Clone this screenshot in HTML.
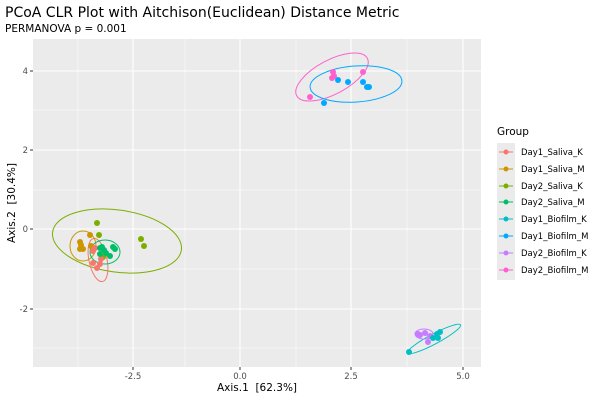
<!DOCTYPE html>
<html><head><meta charset="utf-8"><style>body{margin:0;background:#fff}svg{display:block}text{font-family:"DejaVu Sans","Liberation Sans",sans-serif}</style></head><body>
<svg width="600" height="400" xmlns="http://www.w3.org/2000/svg">
<rect width="600" height="400" fill="#fff"/>
<text x="5" y="17" font-size="14" fill="#000">PCoA CLR Plot with Aitchison(Euclidean) Distance Metric</text>
<text x="5" y="32" font-size="10.5" fill="#000">PERMANOVA p = 0.001</text>
<rect x="33" y="39" width="448" height="328" fill="#EBEBEB"/>
<g stroke="#fff" stroke-width="0.5">
<line x1="78" y1="39" x2="78" y2="367"/><line x1="185" y1="39" x2="185" y2="367"/><line x1="296" y1="39" x2="296" y2="367"/><line x1="407" y1="39" x2="407" y2="367"/>
<line x1="33" y1="110" x2="481" y2="110"/><line x1="33" y1="190" x2="481" y2="190"/><line x1="33" y1="269" x2="481" y2="269"/><line x1="33" y1="348" x2="481" y2="348"/>
</g>
<g stroke="#fff" stroke-width="1.1">
<line x1="133" y1="39" x2="133" y2="367"/><line x1="240" y1="39" x2="240" y2="367"/><line x1="351" y1="39" x2="351" y2="367"/><line x1="463" y1="39" x2="463" y2="367"/>
<line x1="33" y1="71" x2="481" y2="71"/><line x1="33" y1="150" x2="481" y2="150"/><line x1="33" y1="229" x2="481" y2="229"/><line x1="33" y1="309" x2="481" y2="309"/>
</g>
<g stroke="#333" stroke-width="1">
<line x1="133" y1="367" x2="133" y2="370"/><line x1="240" y1="367" x2="240" y2="370"/><line x1="351" y1="367" x2="351" y2="370"/><line x1="463" y1="367" x2="463" y2="370"/>
<line x1="30" y1="71" x2="33" y2="71"/><line x1="30" y1="150" x2="33" y2="150"/><line x1="30" y1="229" x2="33" y2="229"/><line x1="30" y1="309" x2="33" y2="309"/>
</g>
<g font-size="8.5" fill="#4D4D4D" text-anchor="middle">
<text x="133" y="379">-2.5</text><text x="240" y="379">0.0</text><text x="351" y="379">2.5</text><text x="463" y="379">5.0</text>
</g>
<g font-size="8.5" fill="#4D4D4D" text-anchor="end">
<text x="28" y="74">4</text><text x="28" y="153">2</text><text x="28" y="232">0</text><text x="28" y="312">-2</text>
</g>
<text x="257" y="391" font-size="10.5" text-anchor="middle" xml:space="preserve">Axis.1  [62.3%]</text>
<text transform="translate(15,203) rotate(-90)" font-size="10.5" text-anchor="middle" xml:space="preserve">Axis.2  [30.4%]</text>
<g fill="none" stroke-width="1">
<ellipse cx="117" cy="241" rx="65" ry="31" transform="rotate(8 117 241)" stroke="#7CAE00"/>
<ellipse cx="98" cy="260" rx="9" ry="22" transform="rotate(-12 98 260)" stroke="#F8766D"/>
<ellipse cx="83" cy="246" rx="13" ry="15" stroke="#CD9600"/>
<ellipse cx="105" cy="252" rx="15" ry="12" stroke="#00BE67"/>
<ellipse cx="332" cy="77" rx="40" ry="17" transform="rotate(-28 332 77)" stroke="#FF61CC"/>
<ellipse cx="356" cy="84" rx="46" ry="18" transform="rotate(-4 356 84)" stroke="#00A9FF"/>
<ellipse cx="434" cy="339" rx="30" ry="5" transform="rotate(-28 434 339)" stroke="#00BFC4"/>
<ellipse cx="424" cy="334" rx="9" ry="5" stroke="#C77CFF"/>
</g>
<g fill="#CD9600"><circle cx="80" cy="242" r="3"/><circle cx="81" cy="245" r="3"/><circle cx="80" cy="249" r="3"/><circle cx="83" cy="249" r="3"/><circle cx="90" cy="235" r="3"/><circle cx="91" cy="246" r="3"/></g>
<g fill="#7CAE00"><circle cx="97" cy="223" r="3"/><circle cx="99" cy="235" r="3"/><circle cx="141" cy="239" r="3"/><circle cx="144" cy="246" r="3"/><circle cx="103" cy="257" r="3"/></g>
<g fill="#F8766D"><circle cx="93" cy="263" r="3"/><circle cx="97" cy="268" r="3"/><circle cx="100" cy="264" r="3"/><circle cx="101" cy="259" r="3"/><circle cx="93" cy="251" r="3"/><circle cx="95" cy="248" r="3"/></g>
<g fill="#00BE67"><circle cx="100" cy="248" r="3"/><circle cx="102" cy="247" r="3"/><circle cx="113" cy="247" r="3"/><circle cx="115" cy="249" r="3"/><circle cx="100" cy="254" r="3"/><circle cx="106" cy="253" r="3"/><circle cx="110" cy="256" r="3"/><circle cx="104" cy="250" r="3"/></g>
<g fill="#00A9FF"><circle cx="324" cy="103" r="3"/><circle cx="338" cy="80" r="3"/><circle cx="348" cy="82" r="3"/><circle cx="363" cy="82" r="3"/><circle cx="367" cy="87" r="3"/><circle cx="369" cy="87" r="3"/></g>
<g fill="#FF61CC"><circle cx="310" cy="97" r="3"/><circle cx="332" cy="78" r="3"/><circle cx="333" cy="72" r="3"/><circle cx="363" cy="72" r="3"/><circle cx="334" cy="76" r="3"/></g>
<g fill="#C77CFF"><circle cx="420" cy="335" r="3"/><circle cx="425" cy="333" r="3"/><circle cx="430" cy="336" r="3"/><circle cx="428" cy="342" r="3"/><circle cx="418" cy="334" r="3"/></g>
<g fill="#00BFC4"><circle cx="409" cy="352" r="3"/><circle cx="437" cy="334" r="3"/><circle cx="440" cy="332" r="3"/><circle cx="433" cy="338" r="3"/><circle cx="438" cy="338" r="3"/></g>
<text x="497" y="135" font-size="10.5">Group</text>
<rect x="497" y="143" width="18" height="137" fill="#EBEBEB"/>
<g font-size="8.5" fill="#000">
<g stroke-width="1"><line x1="499" x2="513" y1="152" y2="152" stroke="#F8766D"/><line x1="499" x2="513" y1="169" y2="169" stroke="#CD9600"/><line x1="499" x2="513" y1="186" y2="186" stroke="#7CAE00"/><line x1="499" x2="513" y1="202" y2="202" stroke="#00BE67"/><line x1="499" x2="513" y1="219" y2="219" stroke="#00BFC4"/><line x1="499" x2="513" y1="236" y2="236" stroke="#00A9FF"/><line x1="499" x2="513" y1="253" y2="253" stroke="#C77CFF"/><line x1="499" x2="513" y1="270" y2="270" stroke="#FF61CC"/></g>
<circle cx="506" cy="152" r="2.5" fill="#F8766D"/><circle cx="506" cy="169" r="2.5" fill="#CD9600"/><circle cx="506" cy="186" r="2.5" fill="#7CAE00"/><circle cx="506" cy="202" r="2.5" fill="#00BE67"/><circle cx="506" cy="219" r="2.5" fill="#00BFC4"/><circle cx="506" cy="236" r="2.5" fill="#00A9FF"/><circle cx="506" cy="253" r="2.5" fill="#C77CFF"/><circle cx="506" cy="270" r="2.5" fill="#FF61CC"/>
<text x="521" y="155">Day1_Saliva_K</text><text x="521" y="172">Day1_Saliva_M</text><text x="521" y="189">Day2_Saliva_K</text><text x="521" y="205">Day2_Saliva_M</text><text x="521" y="222">Day1_Biofilm_K</text><text x="521" y="239">Day1_Biofilm_M</text><text x="521" y="256">Day2_Biofilm_K</text><text x="521" y="273">Day2_Biofilm_M</text>
</g>
</svg>
</body></html>
